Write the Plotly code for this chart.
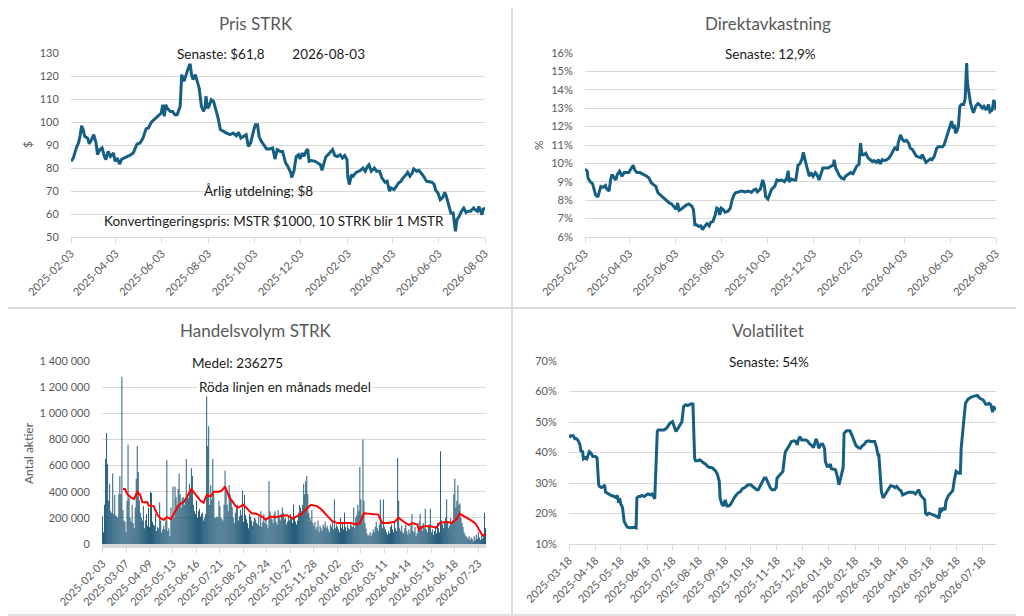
import numpy as np
import pandas as pd
import plotly.graph_objects as go

# ---- Pris STRK: dagar efter 2025-02-03 och pris i USD
price_day = [0, 3, 7, 10, 12, 14, 16, 18, 22, 24, 27, 30, 33, 35, 38, 41, 44, 46, 49, 52, 56, 58, 61, 64, 67,
             70, 73, 78, 82, 87, 91, 95, 99, 102, 106, 111, 115, 119, 121, 123, 125, 127, 131, 134, 137, 140,
             144, 146, 149, 152, 155, 157, 159, 161, 164, 167, 169, 172, 175, 177, 178, 180, 182, 185, 188,
             191, 194, 197, 201, 205, 210, 214, 218, 221, 224, 227, 231, 234, 237, 240, 243, 246, 248, 251,
             255, 258, 262, 266, 269, 272, 276, 279, 283, 286, 290, 291, 294, 297, 300, 302, 305, 307, 310,
             312, 314, 317, 322, 326, 329, 331, 334, 336, 339, 342, 345, 348, 351, 355, 358, 361, 364, 365,
             367, 370, 372, 376, 379, 382, 385, 388, 391, 393, 396, 400, 403, 407, 410, 414, 417, 420, 422,
             426, 429, 432, 435, 438, 442, 444, 447, 450, 452, 456, 459, 462, 465, 469, 473, 476, 479, 481,
             484, 487, 490, 493, 495, 498, 501, 504, 507, 509, 512, 515, 518, 521, 524, 527, 531, 533, 536,
             538, 542, 544, 546]
price_usd = [82.9, 84.3, 88.7, 91, 94, 98.4, 96.7, 93.8, 93, 90.5, 92.3, 94.5, 90.9, 85.8, 88, 88.7, 85,
             83.6, 87.2, 85, 86.5, 82.9, 84.3, 81.7, 83.9, 84.3, 85, 85.6, 86.5, 90.4, 90.9, 93, 97, 97.4,
             99.9, 101.4, 102.5, 103.9, 107.5, 102.5, 107.5, 106, 104.6, 104.6, 103.2, 103.2, 106.8, 120.6,
             117.7, 120.6, 123.5, 125.7, 120.6, 118.4, 120.6, 117.7, 114.8, 106.8, 104.6, 106.8, 111.2, 106,
             106.8, 109.7, 109, 105.4, 101.7, 96.7, 95.9, 95.2, 94.5, 95.2, 94, 95.5, 93, 93.8, 94.5, 89.4,
             90.9, 95.2, 98.8, 98.8, 93.8, 91.6, 89.4, 88.3, 88.3, 88.7, 83.9, 88, 87.2, 87.2, 82.2, 80.7,
             77.8, 75.9, 78.6, 85, 85.8, 83.9, 86.5, 85, 87.2, 88.3, 82.9, 83.2, 82.9, 82.2, 81.4, 79, 82.9,
             84.8, 85.8, 86.8, 88, 85.4, 85, 85.8, 84.3, 85.4, 83.6, 76.4, 72.8, 77.1, 76.4, 78.1, 78.6, 79,
             80, 78.6, 80.7, 81.4, 78.6, 80, 78.6, 78.6, 75.7, 73.8, 74.2, 69.9, 71.3, 70.6, 72, 73.5, 74.2,
             75.7, 77.1, 78.1, 76.4, 77.8, 79.6, 78.6, 79, 77.8, 76.4, 74.2, 73.8, 73.8, 72.8, 70.3, 69.1,
             66.2, 67, 69.4, 67.7, 64.1, 60.4, 60.4, 52.5, 57.5, 59, 61.2, 62.6, 60.7, 61.2, 61.2, 62.6, 61.9,
             61.2, 63.3, 59.7, 62.6, 61.8]

# ---- Direktavkastning: dagar efter 2025-02-03 och procent
yield_day = [0, 3, 4, 7, 10, 12, 14, 17, 19, 21, 24, 27, 29, 32, 34, 36, 39, 41, 43, 46, 49, 52, 55, 58, 61,
             64, 66, 69, 73, 78, 82, 85, 88, 91, 94, 97, 101, 105, 108, 112, 115, 119, 121, 123, 125, 128,
             132, 135, 138, 142, 144, 146, 148, 151, 154, 156, 159, 162, 165, 167, 170, 173, 175, 177, 179,
             181, 183, 186, 190, 193, 195, 198, 200, 204, 208, 213, 217, 221, 224, 227, 229, 233, 236, 238,
             240, 243, 245, 248, 252, 255, 258, 261, 265, 268, 270, 271, 274, 277, 280, 283, 285, 288, 290,
             292, 295, 298, 300, 303, 306, 308, 311, 314, 316, 320, 323, 327, 330, 331, 333, 336, 338, 341,
             344, 346, 350, 353, 356, 359, 361, 364, 366, 368, 370, 373, 376, 379, 382, 384, 387, 390, 392,
             395, 398, 401, 404, 407, 409, 412, 415, 416, 419, 422, 424, 427, 430, 432, 435, 438, 440, 443,
             446, 448, 451, 453, 456, 459, 461, 464, 467, 469, 472, 475, 477, 479, 481, 483, 485, 487, 489,
             491, 492, 494, 496, 498, 500, 503, 505, 507, 508, 510, 512, 514, 516, 519, 522, 525, 528, 530,
             533, 536, 538, 541, 543, 545, 546]
yield_pct = [9.7, 9.57, 9.2, 9.0, 8.9, 8.5, 8.3, 8.17, 8.5, 8.75, 8.7, 8.8, 8.6, 8.5, 9.1, 9.4, 9.2, 9.1,
             9.4, 9.57, 9.3, 9.5, 9.5, 9.5, 9.7, 9.9, 9.65, 9.5, 9.5, 9.4, 9.3, 9.2, 8.95, 8.85, 8.75, 8.4,
             8.25, 8.07, 7.95, 7.85, 7.8, 7.6, 7.5, 7.85, 7.45, 7.52, 7.67, 7.75, 7.8, 7.67, 7.5, 6.67, 6.67,
             6.58, 6.6, 6.4, 6.58, 6.72, 6.6, 6.8, 6.85, 7.2, 7.57, 7.52, 7.2, 7.57, 7.52, 7.35, 7.4, 7.57,
             7.95, 8.3, 8.4, 8.45, 8.5, 8.45, 8.5, 8.42, 8.55, 8.6, 8.45, 8.6, 9.1, 8.85, 8.2, 8.07, 8.3, 8.6,
             8.75, 9.1, 9.05, 9.1, 9.0, 9.2, 9.6, 9.0, 9.15, 9.1, 9.1, 9.9, 9.95, 10.2, 10.6, 10.2, 9.75, 9.3,
             9.5, 9.3, 9.5, 9.4, 9.1, 9.5, 9.75, 9.75, 9.75, 9.85, 9.9, 10.2, 9.75, 9.5, 9.33, 9.2, 9.15, 9.3,
             9.44, 9.5, 9.44, 9.75, 9.85, 9.95, 11.1, 10.47, 10.47, 10.55, 10.3, 10.2, 10.1, 10.15, 10.05,
             10.2, 9.97, 10.2, 10.15, 10.2, 10.3, 10.5, 10.65, 10.9, 10.7, 11.1, 11.55, 11.28, 11.2, 11.25,
             11.1, 10.83, 10.75, 10.5, 10.4, 10.35, 10.3, 10.47, 10.25, 10.05, 10.15, 10.25, 10.2, 10.38,
             10.8, 10.9, 10.9, 10.9, 11.0, 11.28, 11.45, 11.7, 12.0, 12.3, 11.9, 12.1, 11.65, 11.75, 12.0,
             13.1, 13.2, 13.2, 13.5, 15.45, 14.4, 13.8, 13.3, 13.0, 12.75, 13.1, 13.25, 13.15, 13.0, 13.1,
             12.9, 13.2, 12.8, 12.9, 13.45, 13.2, 12.9]

# ---- Volatilitet: dagar efter 2025-03-18 och procent
vol_day = [0, 2, 5, 7, 9, 11, 13, 14, 16, 17, 19, 21, 24, 26, 28, 31, 33, 35, 36, 38, 41, 42, 43, 46, 48,
           50, 53, 55, 57, 58, 60, 61, 63, 65, 67, 69, 72, 75, 77, 79, 80, 82, 84, 86, 89, 91, 93, 96, 98,
           101, 102, 104, 105, 108, 110, 112, 115, 117, 119, 122, 124, 126, 129, 131, 133, 135, 137, 140,
           142, 144, 146, 148, 149, 152, 154, 156, 159, 161, 163, 166, 168, 170, 173, 175, 177, 178, 180,
           182, 184, 186, 188, 190, 192, 195, 197, 199, 202, 204, 207, 209, 211, 214, 216, 218, 221, 223,
           225, 228, 230, 232, 235, 237, 239, 242, 244, 245, 247, 250, 252, 254, 255, 258, 260, 262, 265,
           267, 269, 270, 272, 274, 276, 279, 281, 283, 286, 288, 290, 291, 293, 294, 297, 299, 301, 302,
           304, 306, 308, 309, 312, 314, 316, 318, 320, 321, 323, 324, 327, 329, 331, 334, 336, 338, 341,
           343, 346, 348, 350, 353, 355, 357, 360, 362, 364, 365, 367, 368, 370, 372, 375, 377, 379, 382,
           384, 386, 389, 391, 393, 396, 398, 400, 403, 405, 408, 410, 412, 414, 416, 419, 420, 422, 424,
           426, 429, 431, 433, 436, 437, 439, 441, 443, 444, 447, 449, 452, 454, 456, 459, 461, 462, 465,
           467, 470, 472, 474, 477, 479, 481, 484, 486, 488, 491, 493, 495, 497, 499, 500, 502, 503]
vol_pct = [44.9, 45.5, 45.5, 44.5, 44.5, 43.8, 42.5, 40.5, 40.3, 37.9, 38.3, 37.9, 40.3, 39.8, 38.7, 38.7,
           38.3, 29.4, 28.9, 28.5, 28.9, 29.4, 27, 26.4, 26.1, 25.9, 25.6, 25.3, 25.9, 24.2, 24.5, 23.1, 22,
           17.4, 16.3, 15.5, 15.3, 15.5, 15.5, 15.3, 25.1, 25.6, 25.6, 25.9, 25.6, 26.1, 26.4, 26.1, 26.4,
           24.8, 33.8, 46.9, 47.4, 47.4, 47.4, 47.4, 48, 49, 49.6, 50.1, 48.2, 46.9, 48.2, 49, 50.1, 55.1,
           55.6, 55.4, 55.8, 56, 55.9, 38.1, 37.3, 37.3, 37.6, 37.1, 36.5, 36.2, 35.5, 35.1, 35.1, 34.7,
           33.8, 32.7, 30.5, 25.1, 23.1, 22.5, 24.5, 22.5, 22.5, 22.9, 24, 25.3, 26.1, 26.7, 27.2, 28.1,
           28.5, 28.9, 29.4, 29.4, 28.9, 28.3, 27.8, 27.8, 28.9, 30.5, 31.6, 31.6, 29.4, 28.5, 27.8, 27.8,
           28.5, 31.6, 32.2, 33.2, 33.8, 38.7, 40.3, 41.6, 42.7, 43.6, 43.8, 43.6, 42.5, 44.1, 45.2, 44.1,
           44.1, 44.1, 43.8, 43, 42.3, 41.6, 43.4, 44.5, 43, 41.4, 42.7, 42.7, 41.4, 37.1, 35.5, 35.5, 36.2,
           34.7, 34.5, 34.3, 32.2, 29.4, 31.6, 33.2, 35.1, 46.3, 47.1, 47.1, 47.1, 45.2, 43.6, 42.3, 41.6,
           41.4, 42.3, 42.7, 43.6, 43.8, 43.6, 43.6, 43.6, 42, 39.2, 39.2, 29.4, 27.2, 25.1, 26.1, 27.2,
           28.3, 29.1, 28.9, 28.5, 28.9, 27.8, 27.5, 26.1, 26.4, 26.7, 27, 27, 27, 26.4, 27, 27.8, 26.1,
           25.3, 24.5, 20.1, 19.6, 20.1, 19.9, 19.6, 19.4, 19.1, 18.5, 21.8, 20.9, 21.6, 21.2, 24, 25.9,
           26.7, 27.5, 31.1, 33.8, 33.2, 33.2, 41.4, 50.1, 56.1, 57.5, 58, 58.2, 58.5, 58.7, 58.7, 57.8,
           57.6, 57.2, 55.8, 55.8, 56.1, 55.6, 53.2, 55.1, 54.3, 54]

# ---- Handelsvolym STRK: en stapel per handelsdag, i tusental aktier
volume_k = [
    210, 90, 300, 650, 850, 610, 330, 460, 250, 240, 540, 230, 375, 220, 210, 200, 380, 520, 380, 1280,
    260, 180, 170, 90, 330, 760, 350, 200, 170, 300, 160, 120, 280, 500, 750, 550, 330, 240, 200, 180,
    290, 120, 180, 230, 140, 280, 130, 400, 390, 170, 150, 140, 230, 100, 130, 120, 320, 180, 90, 110,
    140, 110, 180, 640, 100, 120, 60, 280, 190, 440, 200, 440, 360, 300, 420, 540, 380, 280, 350, 360,
    300, 340, 650, 380, 350, 460, 400, 580, 520, 300, 250, 230, 330, 200, 250, 270, 210, 230, 240, 180,
    200, 230, 1170, 750, 900, 300, 450, 340, 650, 380, 200, 200, 210, 200, 330, 290, 200, 190, 180, 300,
    560, 420, 300, 250, 450, 380, 330, 280, 200, 160, 240, 270, 300, 180, 210, 260, 220, 410, 170, 375,
    220, 190, 160, 120, 230, 210, 180, 140, 170, 200, 190, 160, 150, 210, 140, 250, 130, 170, 230, 160,
    200, 150, 120, 480, 250, 200, 190, 160, 230, 250, 170, 150, 260, 210, 180, 230, 280, 240, 190, 200,
    150, 170, 210, 180, 230, 200, 160, 300, 210, 170, 150, 180, 240, 300, 280, 250, 300, 460, 380, 480,
    520, 380, 240, 200, 180, 260, 160, 140, 170, 110, 130, 180, 90, 140, 120, 100, 150, 130, 170, 120,
    140, 110, 90, 150, 130, 170, 110, 340, 120, 150, 130, 110, 90, 200, 120, 170, 110, 240, 130, 100,
    150, 120, 110, 170, 140, 130, 280, 120, 200, 220, 300, 250, 590, 340, 220, 800, 330, 160, 120, 80,
    60, 70, 90, 60, 80, 110, 90, 130, 170, 120, 100, 150, 340, 160, 120, 340, 130, 110, 90, 70,
    100, 80, 130, 150, 110, 90, 170, 120, 100, 660, 330, 120, 100, 140, 90, 80, 120, 150, 100, 70,
    110, 80, 140, 230, 100, 90, 130, 60, 80, 120, 170, 230, 140, 100, 160, 120, 270, 110, 90, 130,
    150, 270, 90, 110, 70, 100, 130, 80, 160, 120, 90, 710, 180, 150, 120, 170, 200, 340, 160, 120,
    140, 200, 160, 180, 380, 500, 280, 330, 450, 300, 310, 200, 160, 130, 90, 70, 60, 50, 40, 60,
    30, 50, 40, 20, 60, 30, 70, 40, 90, 50, 30, 60, 40, 70, 240, 120,
]
# röda linjen (en månads medel), avläst: stapelindex och tusental
avg_idx = [20, 22, 24, 28, 31, 34, 37, 39, 44, 45, 50, 54, 57, 60, 63, 67, 70, 75, 80, 84, 87, 91, 96, 99,
           102, 106, 109, 114, 117, 120, 124, 129, 132, 138, 142, 146, 151, 156, 160, 164, 170, 174, 181,
           186, 191, 195, 200, 204, 210, 215, 220, 225, 230, 236, 243, 249, 252, 256, 262, 270, 274, 280,
           286, 290, 295, 300, 303, 308, 310, 314, 321, 327, 330, 337, 342, 347, 350, 355, 360, 365, 370,
           372, 375]
avg_k = [420, 420, 385, 355, 345, 400, 375, 320, 320, 295, 290, 220, 195, 185, 205, 190, 235, 300, 325,
         375, 420, 380, 330, 315, 375, 365, 400, 400, 410, 440, 360, 305, 275, 300, 270, 235, 230, 210,
         185, 210, 205, 215, 220, 195, 215, 230, 270, 300, 290, 260, 215, 175, 160, 160, 160, 150, 160,
         235, 230, 225, 160, 160, 170, 200, 170, 145, 160, 150, 110, 135, 135, 125, 160, 170, 160, 195,
         230, 210, 185, 160, 95, 65, 75]
volume_labels = ["2025-02-03", "2025-03-07", "2025-04-09", "2025-05-13", "2025-06-16", "2025-07-21",
                 "2025-08-21", "2025-09-24", "2025-10-27", "2025-11-28", "2026-01-02", "2026-02-05",
                 "2026-03-11", "2026-04-14", "2026-05-15", "2026-06-18", "2026-07-23"]
LABEL_STEP = 23

BLUE = "#156082"
GRID = "#d9d9d9"
TXT = "#595959"
FONT = "Lato"
# the page puts the figure 8px in from the top-left corner
OFF = 8
W, H = 1024 - OFF, 616 - OFF


def dates(start, days):
    return pd.Timestamp(start) + pd.to_timedelta(days, unit="D")


def fx(x):
    return (x - OFF) / W


def fy(y):
    return 1 - (y - OFF) / H


fig = go.Figure()

fig.add_trace(go.Scatter(x=dates("2025-02-03", price_day), y=price_usd, mode="lines",
                         line=dict(color=BLUE, width=3), xaxis="x", yaxis="y"))
fig.add_trace(go.Scatter(x=dates("2025-02-03", yield_day), y=yield_pct, mode="lines",
                         line=dict(color=BLUE, width=3), xaxis="x2", yaxis="y2"))
fig.add_trace(go.Bar(x=list(range(len(volume_k))), y=np.array(volume_k) * 1000,
                     marker=dict(color="rgba(10,72,104,0.95)", line=dict(width=0)),
                     xaxis="x3", yaxis="y3"))
fig.add_trace(go.Scatter(x=avg_idx, y=np.array(avg_k) * 1000, mode="lines",
                         line=dict(color="#ff0000", width=2), xaxis="x3", yaxis="y3"))
fig.add_trace(go.Scatter(x=dates("2025-03-18", vol_day), y=vol_pct, mode="lines",
                         line=dict(color=BLUE, width=3), xaxis="x4", yaxis="y4"))

tickfont = dict(family=FONT, size=11, color=TXT)


def xstyle(domain, anchor, **kw):
    d = dict(domain=domain, anchor=anchor, showgrid=False, zeroline=False, showline=True,
             linecolor=GRID, linewidth=1, ticks="outside", ticklen=5, tickcolor=GRID,
             tickangle=-45, tickfont=tickfont, automargin=False)
    d.update(kw)
    return d


def ystyle(domain, anchor, **kw):
    d = dict(domain=domain, anchor=anchor, showgrid=True, gridcolor=GRID, gridwidth=1,
             zeroline=False, showline=False, ticks="outside", ticklen=9,
             tickcolor="rgba(0,0,0,0)", tickfont=tickfont, automargin=False)
    d.update(kw)
    return d


top = [fy(237), fy(53)]
bottom = [fy(544), fy(361)]
n = len(volume_k)

fig.update_layout(
    width=W, height=H, margin=dict(l=0, r=0, t=0, b=0, autoexpand=False),
    paper_bgcolor="white", plot_bgcolor="white", showlegend=False,
    separators=", ", bargap=0.1, font=dict(family=FONT),
    xaxis=xstyle([fx(71), fx(485)], "y", type="date", range=["2025-02-03", "2026-08-03"],
                 tick0="2025-02-03", dtick="M2", tickformat="%Y-%m-%d"),
    yaxis=ystyle(top, "x", range=[50, 130], dtick=10),
    xaxis2=xstyle([fx(585), fx(996)], "y2", type="date", range=["2025-02-03", "2026-08-03"],
                  tick0="2025-02-03", dtick="M2", tickformat="%Y-%m-%d"),
    yaxis2=ystyle(top, "x2", range=[6, 16], dtick=1, ticksuffix="%"),
    xaxis3=xstyle([fx(102), fx(486)], "y3", range=[-0.5, n - 0.5], linewidth=4,
                  tickvals=list(range(0, n, LABEL_STEP))[:len(volume_labels)], ticktext=volume_labels),
    yaxis3=ystyle(bottom, "x3", range=[0, 1400000], dtick=200000, tickformat=",d"),
    xaxis4=xstyle([fx(569), fx(996)], "y4", type="date", range=["2025-03-18", "2026-08-03"],
                  tick0="2025-03-18", dtick="M1", tickformat="%Y-%m-%d"),
    yaxis4=ystyle(bottom, "x4", range=[10, 70], dtick=10, ticksuffix="%"),
)

# panel frames (the divider lines between the four charts)
frames = [(0, 0, 512, 308), (512, 0, 1023, 308), (0, 308, 512, 615), (512, 308, 1023, 615)]
for x0, y0, x1, y1 in frames:
    fig.add_shape(type="rect", xref="paper", yref="paper",
                  x0=fx(x0), x1=fx(x1), y0=fy(y0), y1=fy(y1),
                  line=dict(color=GRID, width=1.5), layer="below")

nb = "\u00a0"
notes = [
    # text, x, y, size, color, angle, xanchor, bg
    ("Pris STRK", 256, 24, 17, TXT, 0, "center", None),
    ("Direktavkastning", 768, 24, 17, TXT, 0, "center", None),
    ("Handelsvolym STRK", 256, 330, 17, TXT, 0, "center", None),
    ("Volatilitet", 768, 330, 17, TXT, 0, "center", None),
    ("$", 28, 145, 12, TXT, -90, "center", None),
    ("%", 539, 145, 12, TXT, -90, "center", None),
    ("Antal aktier", 28, 453, 12, TXT, -90, "center", None),
    ("Senaste: $61,8" + nb * 8 + "2026-08-03", 271, 54, 13.5, "#1a1a1a", 0, "center", "white"),
    ("Årlig utdelning; $8", 258, 191, 13.5, "#1a1a1a", 0, "center", None),
    ("Konvertingeringspris: MSTR $1000, 10 STRK blir 1 MSTR", 274, 221, 13.5, "#1a1a1a", 0, "center", None),
    ("Senaste: 12,9%", 770, 54, 13.5, "#1a1a1a", 0, "center", "white"),
    ("Medel: 236275" + nb * 6, 190, 363, 13.5, "#1a1a1a", 0, "left", "white"),
    ("Röda linjen en månads medel", 197, 387, 13.5, "#1a1a1a", 0, "left", "white"),
    ("Senaste: 54%", 769, 362, 13.5, "#1a1a1a", 0, "center", "white"),
]
for text, x, y, size, color, angle, xa, bg in notes:
    fig.add_annotation(text=text, x=fx(x), y=fy(y), xref="paper", yref="paper", showarrow=False,
                       xanchor=xa, yanchor="middle", textangle=angle,
                       font=dict(family=FONT, size=size, color=color),
                       bgcolor=bg if bg else "rgba(0,0,0,0)", borderpad=1)

fig.write_html("out.html")
